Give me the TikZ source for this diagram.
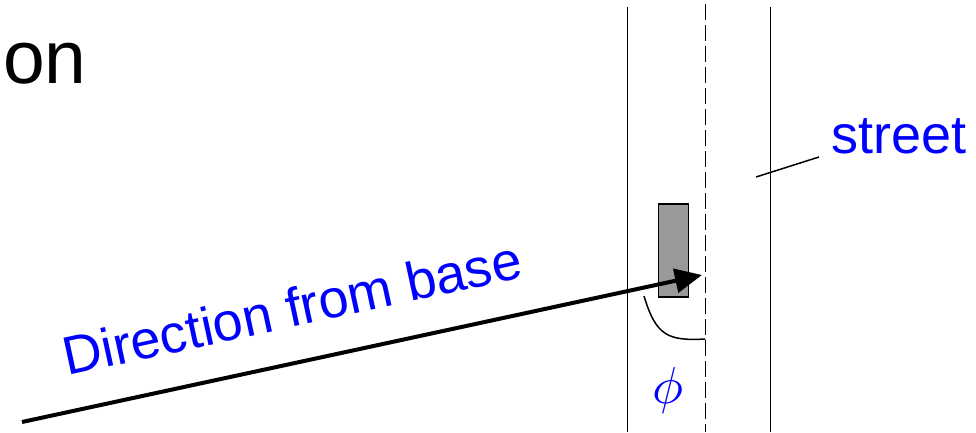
\documentclass[tikz,border=0pt]{standalone}
\usepackage{fontspec}
\setmainfont{Liberation Sans}
\usepackage{tikz}
\usetikzlibrary{arrows.meta,positioning}
\definecolor{dfBlue}{HTML}{0000FF}
\definecolor{dfCar}{HTML}{999999}

\begin{document}
\begin{tikzpicture}[x=1pt,y=-1pt,
  edge/.style={draw=black,line width=1.5pt},
  lbl/.style={text=dfBlue,inner sep=0pt,font=\fontsize{54}{62}\selectfont},
  dir/.style={-{Triangle[length=27pt,width=24pt]},line width=4pt}
]
\useasboundingbox (0,0) rectangle (976,432);
% street edges and centre line
\draw[edge] (627.7,7) coordinate (sl) -- (627.7,432);
\draw[edge] (770.7,7) coordinate (sr) -- (770.7,432);
\draw[edge,dash pattern=on 16pt off 5pt] (705.3,4) coordinate (sc) -- (705.3,432);
% vehicle
\node[draw=black,line width=1.5pt,fill=dfCar,minimum width=30pt,minimum height=93pt,inner sep=0pt] (car) at (673.7,250.7) {};
% direction from the base station
\coordinate (base) at (22,422);
\coordinate (tip) at (702,275);
\draw[dir] (base) -- (tip);
\node[lbl,rotate=12.2,anchor=base west] (dirlbl) at (67,376) {Direction from base};
% angle
\coordinate (a0) at (644,296);
\coordinate (a1) at (705.3,339);
\draw[line width=1.5pt] (a0) .. controls (656,336) and (668,341) .. (a1);
\node[text=dfBlue,inner sep=0pt,scale=5.2] (phi) at (668,390) {$\phi$};
% label of the street
\node[lbl,anchor=base west] (street) at (831,153) {street};
\coordinate (lead) at (756,177);
\draw[line width=1.5pt] (lead) -- (819,157) coordinate (leadend);
\node[inner sep=0pt,anchor=base west,font=\fontsize{75}{88}\selectfont] (title) at (3,83) {on};
\end{tikzpicture}
\end{document}
